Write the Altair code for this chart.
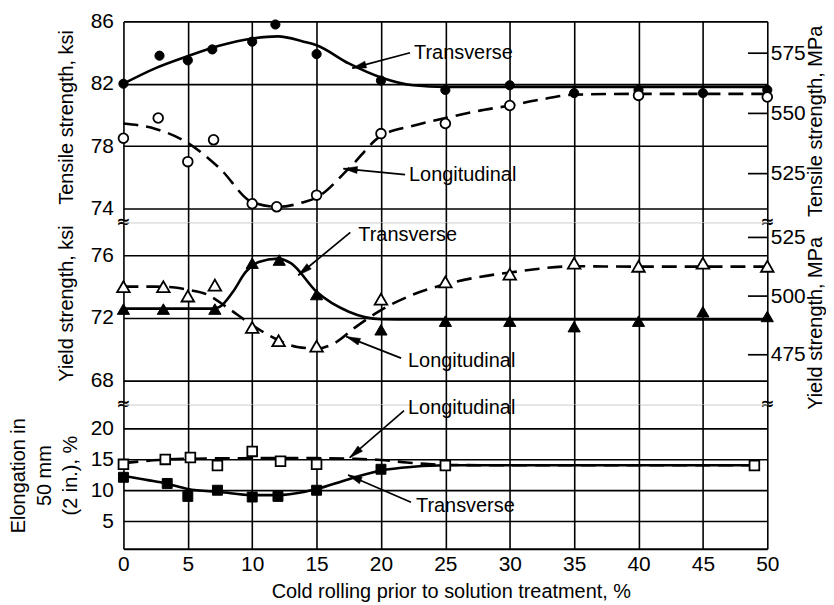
import math
import altair as alt
import pandas as pd

FONT = "Liberation Sans"
PLOT_W = 647
X_MIN, X_MAX = 0, 50

x_ticks = [0, 5, 10, 15, 20, 25, 30, 35, 40, 45, 50]
x_title = "Cold rolling prior to solution treatment, %"

# ---------------- Tensile strength panel (ksi / MPa) ----------------
ts_ticks = [74, 78, 82, 86]
ts_mpa_ticks = [525, 550, 575]
ts_title = "Tensile strength, ksi"
ts_mpa_title = "Tensile strength, MPa"

ts_trans_x = [0, 2.8, 5, 6.9, 10, 11.8, 15, 20, 25, 30, 35, 40, 45, 50]
ts_trans_y = [82.0, 83.8, 83.5, 84.2, 84.7, 85.8, 83.9, 82.2, 81.6, 81.9, 81.4, 81.6, 81.4, 81.6]
ts_long_x = [0, 2.7, 5, 7, 10, 11.9, 15, 20, 25, 30, 40, 50]
ts_long_y = [78.5, 79.8, 77.0, 78.4, 74.3, 74.1, 74.85, 78.8, 79.45, 80.6, 81.25, 81.15]

ts_trans_cx = [0, 2.5, 5, 7.5, 10, 12, 14, 15, 17.5, 20, 22.5, 25, 30, 35, 40, 45, 50]
ts_trans_cy = [82.0, 83.0, 83.77, 84.45, 84.9, 85.04, 84.7, 84.47, 83.3, 82.4, 81.9, 81.8, 81.8, 81.8, 81.8, 81.8, 81.8]
ts_long_cx = [0, 2.5, 5, 7.5, 10, 12, 14, 15, 17.5, 20, 22.5, 25, 27.5, 30, 32.5, 35, 40, 45, 50]
ts_long_cy = [79.45, 79.1, 78.2, 76.55, 74.4, 74.1, 74.4, 74.7, 76.55, 78.65, 79.3, 79.8, 80.25, 80.6, 81.0, 81.3, 81.35, 81.35, 81.35]

ts_lab = ["Transverse", "Longitudinal"]
ts_lab_x = [22.57, 22.18]
ts_lab_y = [83.96, 76.11]
ts_arr_x0 = [22.26, 21.87]
ts_arr_y0 = [83.99, 76.17]
ts_arr_x1 = [17.77, 17.08]
ts_arr_y1 = [83.0, 76.55]

# ---------------- Yield strength panel ----------------
ys_ticks = [68, 72, 76]
ys_mpa_ticks = [475, 500, 525]
ys_title = "Yield strength, ksi"
ys_mpa_title = "Yield strength, MPa"

ys_trans_x = [0, 3.1, 7.1, 10, 12.1, 15, 20, 25, 30, 35, 40, 45, 50]
ys_trans_y = [72.57, 72.57, 72.57, 75.5, 75.7, 73.5, 71.25, 71.8, 71.8, 71.45, 71.8, 72.4, 72.1]
ys_long_x = [0, 3.1, 5, 7.1, 10, 12.05, 15, 20, 25, 30, 35, 40, 45, 50]
ys_long_y = [74.0, 74.0, 73.4, 74.1, 71.4, 70.55, 70.2, 73.2, 74.3, 74.8, 75.5, 75.3, 75.5, 75.3]

ys_trans_cx = [0, 3, 7, 7.5, 8.5, 9.5, 10.5, 12, 13, 15, 17.5, 20, 22.5, 25, 30, 35, 40, 45, 50]
ys_trans_cy = [72.6, 72.6, 72.6, 72.72, 73.67, 74.94, 75.57, 75.79, 75.5, 73.67, 72.4, 71.92, 71.9, 71.9, 71.9, 71.9, 71.9, 71.9, 71.9]
ys_long_cx = [0, 2.5, 4, 5, 6.5, 8, 10, 12, 13.5, 15, 16.5, 18, 20, 22.5, 25, 27.5, 30, 35, 40, 45, 50]
ys_long_cy = [74.0, 74.0, 73.95, 73.8, 73.5, 72.7, 71.55, 70.6, 70.15, 70.05, 70.45, 71.4, 72.5, 73.5, 74.15, 74.6, 74.9, 75.3, 75.28, 75.28, 75.28]

ys_lab = ["Transverse", "Longitudinal"]
ys_lab_x = [18.24, 22.1]
ys_lab_y = [77.27, 69.23]
ys_arr_x0 = [17.62, 21.56]
ys_arr_y0 = [77.46, 69.44]
ys_arr_x1 = [13.58, 17.31]
ys_arr_y1 = [74.73, 70.81]

# ---------------- Elongation panel ----------------
el_ticks = [5, 10, 15, 20]
el_title = ["Elongation in", "50 mm", "(2 in.), %"]

el_long_x = [0, 3.25, 5.2, 7.3, 10, 12.2, 15, 25, 49]
el_long_y = [14.2, 15.0, 15.3, 14.0, 16.3, 14.7, 14.2, 14.0, 14.0]
el_trans_x = [0, 3.4, 5, 7.3, 10, 12, 15, 20]
el_trans_y = [12.1, 11.1, 9.0, 10.0, 8.9, 9.0, 10.0, 13.4]

el_long_cx = [0, 2, 3.3, 5, 10, 15, 18, 20, 22, 25, 30, 40, 49]
el_long_cy = [14.4, 14.8, 15.0, 15.1, 15.2, 15.2, 15.1, 14.9, 14.5, 14.1, 14.05, 14.05, 14.05]
el_trans_cx = [0, 2, 3.3, 5, 7.5, 10, 12, 14, 15, 17.5, 20, 22.5, 25, 30, 40, 49]
el_trans_cy = [12.3, 11.6, 11.1, 10.2, 9.7, 9.2, 9.2, 9.7, 10.2, 11.8, 13.2, 13.8, 14.05, 14.05, 14.05, 14.05]

el_lab = ["Longitudinal", "Transverse"]
el_lab_x = [22.1, 22.72]
el_lab_y = [23.39, 7.47]
el_arr_x0 = [21.79, 22.33]
el_arr_y0 = [22.9, 8.06]
el_arr_x1 = [17.57, 17.44]
el_arr_y1 = [15.27, 12.47]

ARROW_PATH = "M0,0L-0.5,2L0.5,2Z"


def x_enc(bottom):
    kw = dict(values=x_ticks, grid=True, gridColor="black", gridWidth=1.6, gridOpacity=1,
              ticks=False, domain=bottom, labels=bottom, labelFlush=False)
    if bottom:
        kw.update(domainColor="black", domainWidth=2, labelFont=FONT, labelFontSize=21,
                  labelColor="black", labelPadding=5, title=x_title, titleFont=FONT,
                  titleFontSize=20, titleFontWeight="normal", titleColor="black",
                  titleX=329, titleY=43, titleAlign="center", titleBaseline="middle")
    else:
        kw.update(title=None)
    return alt.X("x:Q", scale=alt.Scale(domain=[X_MIN, X_MAX], nice=False, zero=False),
                 axis=alt.Axis(**kw))


def make_panel(dmin, dmax, height, ticks, title, title_y, curves, points, labels,
               lab_x, lab_y, ax0, ay0, ax1, ay1, breaks, right=None, multi=False):
    xs = x_enc(right is None)
    left_axis = alt.Axis(values=ticks, grid=True, gridColor="black", gridWidth=1.6, gridOpacity=1,
                         ticks=False, domain=False, labelFont=FONT, labelFontSize=21,
                         labelColor="black", labelPadding=10, labelFlush=False,
                         title=title, titleFont=FONT, titleFontSize=20, titleFontWeight="normal",
                         titleColor="black", titleAngle=270, titleAlign="center",
                         titleBaseline="middle", titleX=-105 if multi else -57, titleY=title_y,
                         titleLineHeight=26)
    ys = alt.Y("y:Q", scale=alt.Scale(domain=[dmin, dmax], nice=False, zero=False), axis=left_axis)
    layers = []
    for cx, cy, dashed in curves:
        df = pd.DataFrame({"x": cx, "y": cy})
        kw = dict(interpolate="monotone", color="black", strokeWidth=2.6)
        if dashed:
            kw["strokeDash"] = [15, 8]
        layers.append(alt.Chart(df).mark_line(**kw).encode(x=xs, y=ys))
    for px, py, shape, filled, size in points:
        df = pd.DataFrame({"x": px, "y": py})
        if filled:
            m = alt.Chart(df).mark_point(shape=shape, filled=True, fill="black", stroke="black",
                                         strokeWidth=1, size=size, opacity=1)
        else:
            m = alt.Chart(df).mark_point(shape=shape, filled=True, fill="white", stroke="black",
                                         strokeWidth=1.8, size=size, opacity=1)
        layers.append(m.encode(x=xs, y=ys))
    # annotation arrows
    sx = PLOT_W / (X_MAX - X_MIN)
    sy = height / (dmax - dmin)
    angs = []
    for a, b, c, d in zip(ax0, ay0, ax1, ay1):
        dx = (c - a) * sx
        dy = -(d - b) * sy
        angs.append(math.degrees(math.atan2(dx, -dy)) % 360)
    adf = pd.DataFrame({"x": ax0, "y": ay0, "x2": ax1, "y2": ay1})
    layers.append(alt.Chart(adf).mark_rule(color="black", strokeWidth=1.7).encode(
        x=xs, y=ys, x2="x2:Q", y2="y2:Q"))
    hdf = pd.DataFrame({"x": ax1, "y": ay1, "ang": angs})
    layers.append(alt.Chart(hdf).mark_point(shape=ARROW_PATH, filled=True, fill="black",
                                            stroke="black", strokeWidth=0.5, size=196, opacity=1)
                  .encode(x=xs, y=ys, angle=alt.Angle("ang:Q", scale=None)))
    tdf = pd.DataFrame({"x": lab_x, "y": lab_y, "label": labels})
    layers.append(alt.Chart(tdf).mark_text(align="left", baseline="middle", font=FONT, fontSize=20,
                                           color="black").encode(x=xs, y=ys, text="label:N"))
    if breaks:
        bdf = pd.DataFrame({"x": [X_MIN, X_MAX], "y": [dmin, dmin], "label": ["≈", "≈"]})
        layers.append(alt.Chart(bdf).mark_text(align="center", baseline="middle", font="DejaVu Sans",
                                               fontSize=17, fontWeight="bold", color="black")
                      .encode(x=xs, y=ys, text="label:N"))
    left = alt.layer(*layers)
    if right is not None:
        rdom, rticks, rtitle, rtitle_y = right
        rdf = pd.DataFrame({"x": [48.5] * len(rticks), "x2": [50] * len(rticks), "y": rticks})
        raxis = alt.Axis(orient="right", values=rticks, grid=False, ticks=False, domain=False,
                         labelFont=FONT, labelFontSize=21, labelColor="black", labelPadding=3,
                         labelFlush=False, title=rtitle, titleFont=FONT, titleFontSize=20,
                         titleFontWeight="normal", titleColor="black", titleAngle=270,
                         titleAlign="center", titleBaseline="middle", titleX=48, titleY=rtitle_y)
        rchart = alt.Chart(rdf).mark_rule(color="black", strokeWidth=1.7).encode(
            x=xs, x2="x2:Q",
            y=alt.Y("y:Q", scale=alt.Scale(domain=rdom, nice=False, zero=False), axis=raxis))
        full = alt.layer(left, rchart).resolve_scale(y="independent")
    else:
        full = left
    return full.properties(width=PLOT_W, height=height)


top = make_panel(
    73.1, 86, 202, ts_ticks, ts_title, 96,
    curves=[(ts_trans_cx, ts_trans_cy, False), (ts_long_cx, ts_long_cy, True)],
    points=[(ts_trans_x, ts_trans_y, "circle", True, 85), (ts_long_x, ts_long_y, "circle", False, 95)],
    labels=ts_lab, lab_x=ts_lab_x, lab_y=ts_lab_y,
    ax0=ts_arr_x0, ay0=ts_arr_y0, ax1=ts_arr_x1, ay1=ts_arr_y1, breaks=True,
    right=([504.75, 588.2], ts_mpa_ticks, ts_mpa_title, 100))

mid = make_panel(
    66.48, 78.1, 183, ys_ticks, ys_title, 81,
    curves=[(ys_trans_cx, ys_trans_cy, False), (ys_long_cx, ys_long_cy, True)],
    points=[(ys_trans_x, ys_trans_y, "triangle-up", True, 150), (ys_long_x, ys_long_y, "triangle-up", False, 160)],
    labels=ys_lab, lab_x=ys_lab_x, lab_y=ys_lab_y,
    ax0=ys_arr_x0, ay0=ys_arr_y0, ax1=ys_arr_x1, ay1=ys_arr_y1, breaks=True,
    right=([453.8, 531.4], ys_mpa_ticks, ys_mpa_title, 101))

bot = make_panel(
    0.5, 23.9, 145, el_ticks, el_title, 71,
    curves=[(el_trans_cx, el_trans_cy, False), (el_long_cx, el_long_cy, True)],
    points=[(el_trans_x, el_trans_y, "square", True, 100), (el_long_x, el_long_y, "square", False, 95)],
    labels=el_lab, lab_x=el_lab_x, lab_y=el_lab_y,
    ax0=el_arr_x0, ay0=el_arr_y0, ax1=el_arr_x1, ay1=el_arr_y1, breaks=False,
    right=None, multi=True)

chart = alt.vconcat(top, mid, bot, spacing=0, bounds="flush",
                    padding={"left": 0, "top": 0, "right": 0, "bottom": 0}) \
    .configure_view(stroke=None).configure(background="white")

chart.save("out.html", embed_options={"renderer": "svg", "actions": False})
